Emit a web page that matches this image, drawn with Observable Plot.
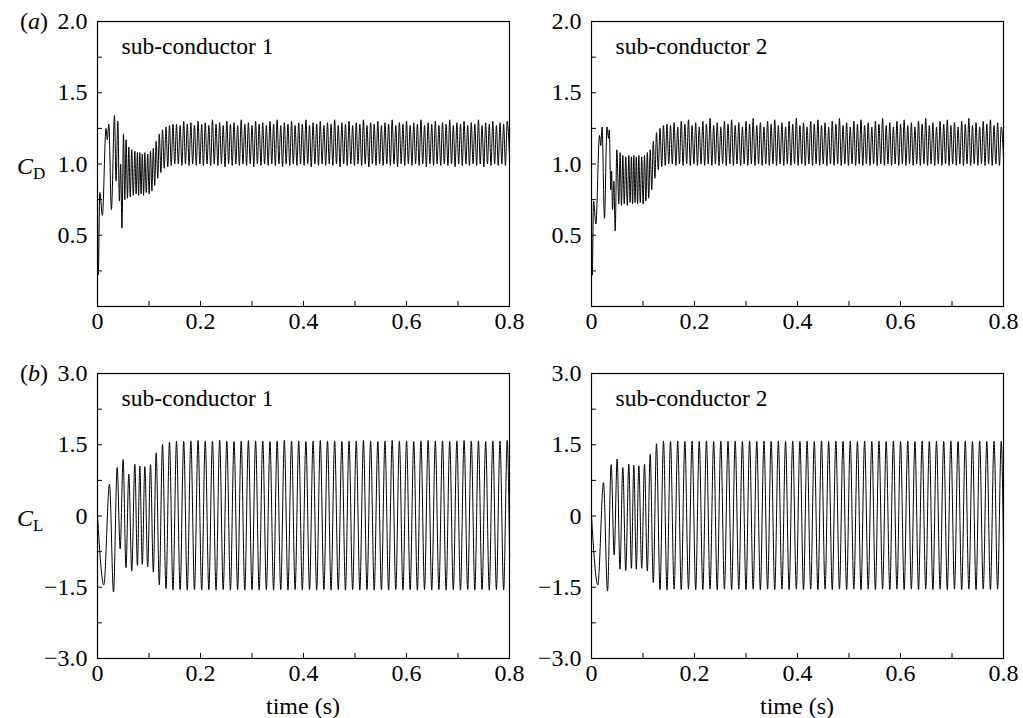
<!DOCTYPE html>
<html><head><meta charset="utf-8">
<script src="https://cdn.jsdelivr.net/npm/d3@7"></script>
<script src="https://cdn.jsdelivr.net/npm/@observablehq/plot@0.6"></script>
<style>
body{margin:0;background:#fff;}
#wrap{position:relative;width:1023px;height:718px;font-family:"Liberation Serif","Times New Roman",serif;color:#000;background:#fff;overflow:hidden}
#wrap svg{position:absolute;overflow:visible}
.lab{position:absolute;font-size:24px;line-height:1;white-space:nowrap}
.lab sub{font-size:17px;vertical-align:-5px;line-height:0}
</style></head><body><div id="wrap"></div>
<script>
// ---------- axis ticks / labels ----------
const xTicks = [0.1, 0.2, 0.3, 0.4, 0.5, 0.6, 0.7];
const xLabels = [0, 0.2, 0.4, 0.6, 0.8];
const cdTicks = [0.25, 0.5, 0.75, 1.0, 1.25, 1.5, 1.75];
const cdLabels = [0.5, 1.0, 1.5, 2.0];
const clTicks = [-2.25, -1.5, -0.75, 0, 0.75, 1.5, 2.25];
const clLabels = [-3, -1.5, 0, 1.5, 3];
const panelTitles = ["sub-conductor 1", "sub-conductor 2"];

// ---------- lift coefficient: times of extremes (s), shared by both sub-conductors ----------
const clTimes = [0, 0.0123, 0.0233, 0.0311, 0.0382, 0.0440, 0.0498, 0.0553, 0.0608, 0.0665, 0.0725, 0.0775, 0.0822, 0.0870, 0.0919, 0.0975, 0.1029, 0.1084, 0.1139, 0.1200, 0.1262, 0.1330, 0.1398, 0.1466,
  0.1534, 0.1604, 0.1674, 0.1743, 0.1813, 0.1883, 0.1953, 0.2023, 0.2092, 0.2162,
  0.2232, 0.2302, 0.2372, 0.2441, 0.2511, 0.2581, 0.2651, 0.2721, 0.2790, 0.2860,
  0.2930, 0.3000, 0.3070, 0.3139, 0.3209, 0.3279, 0.3349, 0.3419, 0.3488, 0.3558,
  0.3628, 0.3698, 0.3768, 0.3837, 0.3907, 0.3977, 0.4047, 0.4117, 0.4186, 0.4256,
  0.4326, 0.4396, 0.4466, 0.4535, 0.4605, 0.4675, 0.4745, 0.4815, 0.4884, 0.4954,
  0.5024, 0.5094, 0.5164, 0.5233, 0.5303, 0.5373, 0.5443, 0.5513, 0.5582, 0.5652,
  0.5722, 0.5792, 0.5862, 0.5931, 0.6001, 0.6071, 0.6141, 0.6211, 0.6280, 0.6350,
  0.6420, 0.6490, 0.6560, 0.6629, 0.6699, 0.6769, 0.6839, 0.6909, 0.6978, 0.7048,
  0.7118, 0.7188, 0.7258, 0.7327, 0.7397, 0.7467, 0.7537, 0.7607, 0.7676, 0.7746,
  0.7816, 0.7886, 0.7956, 0.8];

const cl1 = [0, -1.45, 0.67, -1.60, 1.02, -0.69, 1.19, -1.09, 0.88, -1.16, 1.09, -1.04, 1.05, -1.02, 1.04, -1.07, 1.08, -1.18, 1.33, -1.45, 1.51, -1.53, 1.55, -1.56,
  1.58,-1.55,1.57,-1.56,1.58,-1.55,1.59,-1.56,1.58,-1.55,
  1.58,-1.56,1.59,-1.55,1.58,-1.56,1.57,-1.55,1.58,-1.56,
  1.59,-1.55,1.58,-1.56,1.58,-1.55,1.57,-1.56,1.58,-1.55,
  1.59,-1.56,1.58,-1.55,1.58,-1.56,1.57,-1.55,1.58,-1.56,
  1.59,-1.55,1.58,-1.56,1.58,-1.55,1.57,-1.56,1.58,-1.55,
  1.58,-1.56,1.59,-1.55,1.58,-1.56,1.57,-1.55,1.58,-1.56,
  1.59,-1.55,1.58,-1.56,1.58,-1.55,1.57,-1.56,1.58,-1.55,
  1.59,-1.56,1.58,-1.55,1.58,-1.56,1.57,-1.55,1.58,-1.56,
  1.59,-1.55,1.58,-1.56,1.58,-1.55,1.57,-1.56,1.58,-1.55,
  1.58,-1.56,1.59, -0.70];

const cl2 = [0, -1.45, 0.70, -1.58, 1.08, -0.82, 1.20, -1.12, 1.02, -1.15, 1.09, -1.10, 1.07, -1.12, 1.06, -1.10, 1.09, -1.16, 1.30, -1.40, 1.52, -1.55, 1.58, -1.56,
  1.57,-1.54,1.58,-1.55,1.57,-1.54,1.58,-1.55,1.57,-1.55,
  1.58,-1.54,1.57,-1.55,1.58,-1.54,1.57,-1.55,1.58,-1.54,
  1.57,-1.55,1.58,-1.54,1.57,-1.55,1.58,-1.54,1.57,-1.55,
  1.58,-1.54,1.57,-1.55,1.58,-1.54,1.57,-1.55,1.58,-1.54,
  1.57,-1.55,1.58,-1.54,1.57,-1.55,1.58,-1.54,1.57,-1.55,
  1.58,-1.54,1.57,-1.55,1.58,-1.54,1.57,-1.55,1.58,-1.54,
  1.57,-1.55,1.58,-1.54,1.57,-1.55,1.58,-1.54,1.57,-1.55,
  1.58,-1.54,1.57,-1.55,1.58,-1.54,1.57,-1.55,1.58,-1.54,
  1.57,-1.55,1.58,-1.54,1.57,-1.55,1.58,-1.54,1.57,-1.55,
  1.58,-1.54,1.57, -0.70];

// ---------- drag coefficient ----------
const cdStartTimes1 = [0, 0.0015, 0.0045, 0.0095, 0.0165, 0.0190, 0.0220, 0.0270, 0.0330, 0.0360, 0.0395, 0.0425, 0.0450, 0.0475, 0.0505, 0.0530, 0.0555, 0.0582, 0.0608, 0.0636, 0.0665, 0.0695, 0.0725, 0.0750, 0.0775, 0.0798, 0.0822, 0.0846, 0.0870, 0.0895, 0.0919, 0.0947, 0.0975, 0.1002, 0.1029, 0.1056, 0.1084, 0.1111, 0.1139, 0.1170, 0.1200, 0.1231, 0.1262, 0.1296, 0.1330, 0.1364, 0.1398, 0.1432, 0.1466, 0.1500];
const cdStart1 = [0.75, 0.22, 0.80, 0.64, 1.25, 1.17, 1.28, 0.68, 1.34, 0.88, 1.30, 0.74, 1.00, 0.55, 1.21, 0.75, 1.17, 0.76, 1.12, 0.77, 1.10, 0.78, 1.09, 0.79, 1.08, 0.78, 1.08, 0.79, 1.07, 0.78, 1.08, 0.80, 1.07, 0.79, 1.09, 0.81, 1.11, 0.85, 1.16, 0.90, 1.21, 0.94, 1.24, 0.97, 1.26, 0.98, 1.27, 0.99, 1.28, 1.00];

const cdStartTimes2 = [0, 0.0015, 0.0040, 0.0085, 0.0155, 0.0180, 0.0205, 0.0252, 0.0300, 0.0330, 0.0345, 0.0375, 0.0390, 0.0408, 0.0434, 0.0460, 0.0492, 0.0530, 0.0555, 0.0582, 0.0608, 0.0636, 0.0665, 0.0695, 0.0725, 0.0750, 0.0775, 0.0798, 0.0822, 0.0846, 0.0870, 0.0895, 0.0919, 0.0947, 0.0975, 0.1002, 0.1029, 0.1056, 0.1084, 0.1111, 0.1139, 0.1170, 0.1200, 0.1231, 0.1262, 0.1296, 0.1330, 0.1364, 0.1398, 0.1432, 0.1466, 0.1500];
const cdStart2 = [0.70, 0.22, 0.74, 0.58, 1.20, 1.13, 1.26, 0.62, 1.26, 1.18, 1.24, 0.82, 0.95, 0.68, 0.88, 0.53, 1.10, 0.72, 1.08, 0.71, 1.06, 0.72, 1.05, 0.71, 1.06, 0.73, 1.05, 0.72, 1.06, 0.73, 1.05, 0.72, 1.06, 0.73, 1.05, 0.72, 1.06, 0.74, 1.08, 0.76, 1.10, 0.82, 1.16, 0.90, 1.22, 0.96, 1.25, 0.98, 1.27, 0.99, 1.28, 1.00];

const cdSteadyTimes = [
  0.1534, 0.1569, 0.1604, 0.1639, 0.1674, 0.1708, 0.1743, 0.1778, 0.1813, 0.1848,
  0.1883, 0.1918, 0.1953, 0.1988, 0.2023, 0.2057, 0.2092, 0.2127, 0.2162, 0.2197,
  0.2232, 0.2267, 0.2302, 0.2337, 0.2372, 0.2406, 0.2441, 0.2476, 0.2511, 0.2546,
  0.2581, 0.2616, 0.2651, 0.2686, 0.2721, 0.2755, 0.2790, 0.2825, 0.2860, 0.2895,
  0.2930, 0.2965, 0.3000, 0.3035, 0.3070, 0.3104, 0.3139, 0.3174, 0.3209, 0.3244,
  0.3279, 0.3314, 0.3349, 0.3384, 0.3419, 0.3453, 0.3488, 0.3523, 0.3558, 0.3593,
  0.3628, 0.3663, 0.3698, 0.3733, 0.3768, 0.3802, 0.3837, 0.3872, 0.3907, 0.3942,
  0.3977, 0.4012, 0.4047, 0.4082, 0.4117, 0.4151, 0.4186, 0.4221, 0.4256, 0.4291,
  0.4326, 0.4361, 0.4396, 0.4431, 0.4466, 0.4500, 0.4535, 0.4570, 0.4605, 0.4640,
  0.4675, 0.4710, 0.4745, 0.4780, 0.4815, 0.4849, 0.4884, 0.4919, 0.4954, 0.4989,
  0.5024, 0.5059, 0.5094, 0.5129, 0.5164, 0.5198, 0.5233, 0.5268, 0.5303, 0.5338,
  0.5373, 0.5408, 0.5443, 0.5478, 0.5513, 0.5547, 0.5582, 0.5617, 0.5652, 0.5687,
  0.5722, 0.5757, 0.5792, 0.5827, 0.5862, 0.5896, 0.5931, 0.5966, 0.6001, 0.6036,
  0.6071, 0.6106, 0.6141, 0.6176, 0.6211, 0.6245, 0.6280, 0.6315, 0.6350, 0.6385,
  0.6420, 0.6455, 0.6490, 0.6525, 0.6560, 0.6594, 0.6629, 0.6664, 0.6699, 0.6734,
  0.6769, 0.6804, 0.6839, 0.6874, 0.6909, 0.6943, 0.6978, 0.7013, 0.7048, 0.7083,
  0.7118, 0.7153, 0.7188, 0.7223, 0.7258, 0.7292, 0.7327, 0.7362, 0.7397, 0.7432,
  0.7467, 0.7502, 0.7537, 0.7572, 0.7607, 0.7641, 0.7676, 0.7711, 0.7746, 0.7781,
  0.7816, 0.7851, 0.7886, 0.7921, 0.7956, 0.8];

const cdSteady1 = [
  1.28,1.00,1.27,0.99,1.30,1.00,1.28,0.99,1.29,1.00,
  1.27,0.99,1.30,1.00,1.28,0.99,1.29,1.00,1.27,0.99,
  1.31,1.00,1.28,0.99,1.29,1.00,1.27,0.98,1.30,1.00,
  1.28,0.99,1.29,1.00,1.27,0.99,1.31,1.00,1.28,0.99,
  1.29,1.00,1.27,0.98,1.30,1.00,1.28,0.99,1.29,1.00,
  1.27,0.99,1.30,1.00,1.28,0.99,1.31,1.00,1.27,0.98,
  1.29,1.00,1.28,0.99,1.30,1.00,1.27,0.99,1.29,1.00,
  1.28,0.99,1.31,1.00,1.27,0.98,1.29,1.00,1.28,0.99,
  1.30,1.00,1.27,0.99,1.29,1.00,1.28,0.99,1.31,1.00,
  1.27,0.98,1.29,1.00,1.28,0.99,1.30,1.00,1.27,0.99,
  1.29,1.00,1.28,0.99,1.31,1.00,1.27,0.98,1.29,1.00,
  1.28,0.99,1.30,1.00,1.27,0.99,1.29,1.00,1.28,0.99,
  1.31,1.00,1.27,0.98,1.29,1.00,1.28,0.99,1.30,1.00,
  1.27,0.99,1.29,1.00,1.28,0.99,1.31,1.00,1.27,0.98,
  1.29,1.00,1.28,0.99,1.30,1.00,1.27,0.99,1.29,1.00,
  1.28,0.99,1.31,1.00,1.27,0.98,1.29,1.00,1.28,0.99,
  1.30,1.00,1.27,0.99,1.29,1.00,1.28,0.99,1.31,1.00,
  1.27,0.98,1.29,1.00,1.28,0.99,1.30,1.00,1.27,0.99,
  1.29,1.00,1.28,0.99,1.30, 1.05];

const cdSteady2 = [
  1.27,1.00,1.29,0.99,1.26,1.00,1.30,0.99,1.28,1.00,
  1.31,0.99,1.27,1.00,1.29,0.99,1.26,1.00,1.30,0.99,
  1.28,1.00,1.32,0.99,1.27,1.00,1.29,0.99,1.26,1.00,
  1.30,0.99,1.28,1.00,1.31,0.99,1.27,1.00,1.29,0.99,
  1.26,1.00,1.30,0.99,1.28,1.00,1.32,0.99,1.27,1.00,
  1.29,0.99,1.26,1.00,1.30,0.99,1.28,1.00,1.31,0.99,
  1.27,1.00,1.29,0.99,1.26,1.00,1.30,0.99,1.28,1.00,
  1.32,0.99,1.27,1.00,1.29,0.99,1.26,1.00,1.30,0.99,
  1.28,1.00,1.31,0.99,1.27,1.00,1.29,0.99,1.26,1.00,
  1.30,0.99,1.28,1.00,1.32,0.99,1.27,1.00,1.29,0.99,
  1.26,1.00,1.30,0.99,1.28,1.00,1.31,0.99,1.27,1.00,
  1.29,0.99,1.26,1.00,1.30,0.99,1.28,1.00,1.32,0.99,
  1.27,1.00,1.29,0.99,1.26,1.00,1.30,0.99,1.28,1.00,
  1.31,0.99,1.27,1.00,1.29,0.99,1.26,1.00,1.30,0.99,
  1.28,1.00,1.32,0.99,1.27,1.00,1.29,0.99,1.26,1.00,
  1.30,0.99,1.28,1.00,1.31,0.99,1.27,1.00,1.29,0.99,
  1.26,1.00,1.30,0.99,1.28,1.00,1.32,0.99,1.27,1.00,
  1.29,0.99,1.26,1.00,1.30,0.99,1.28,1.00,1.31,0.99,
  1.27,1.00,1.29,0.99,1.26, 1.05];

// ---------- drawing ----------
const FONT = '"Liberation Serif","Times New Roman",serif';
const wrap = document.getElementById("wrap");
const fmtX = d => d === 0 ? "0" : d.toFixed(1);
const fmtY = d => d === 0 ? "0" : (d < 0 ? "\u2212" + (-d).toFixed(1) : d.toFixed(1));

function series(times, values) {
  return times.map((t, i) => ({t, v: values[i]})).filter(d => d.v !== undefined);
}

function panel({data, yDomain, yTicks, yLabels, title, left, top, width, height, mt, mb, ml, mr}) {
  const innerH = height - mt - mb, innerW = width - ml - mr;
  const svg = Plot.plot({
    width, height, marginTop: mt, marginBottom: mb, marginLeft: ml, marginRight: mr,
    style: {fontFamily: FONT, fontSize: "24px", background: "transparent", color: "#000"},
    x: {domain: [0, 0.8]},
    y: {domain: yDomain},
    marks: [
      Plot.line(data, {x: "t", y: "v", stroke: "#000", strokeWidth: 1, curve: "monotone-x"}),
      Plot.tickX(xTicks, {x: d => d, stroke: "#000", strokeWidth: 1, insetTop: innerH - 5}),
      Plot.tickY(yTicks, {y: d => d, stroke: "#000", strokeWidth: 1, insetRight: innerW - 5}),
      Plot.frame({stroke: "#000", strokeWidth: 1.2}),
      Plot.axisX(xLabels, {tickSize: 0, tickPadding: 5, tickFormat: fmtX, fontSize: 24, label: null}),
      Plot.axisY(yLabels, {tickSize: 0, tickPadding: 10, tickFormat: fmtY, fontSize: 24, label: null}),
      Plot.text([title], {text: d => d, frameAnchor: "top-left", dx: 24, dy: 25, lineAnchor: "middle", textAnchor: "start", fontSize: 23.5})
    ]
  });
  svg.style.left = left + "px";
  svg.style.top = top + "px";
  wrap.appendChild(svg);
}

const topGeom = {top: 0, height: 340, mt: 21, mb: 34};
const botGeom = {top: 340, height: 378, mt: 33, mb: 60};
const leftGeom = {left: 0, width: 512, ml: 97, mr: 3};
const rightGeom = {left: 512, width: 511, ml: 79, mr: 20};

panel({data: series(cdStartTimes1.concat(cdSteadyTimes), cdStart1.concat(cdSteady1)), yDomain: [0, 2], yTicks: cdTicks, yLabels: cdLabels, title: panelTitles[0], ...topGeom, ...leftGeom});
panel({data: series(cdStartTimes2.concat(cdSteadyTimes), cdStart2.concat(cdSteady2)), yDomain: [0, 2], yTicks: cdTicks, yLabels: cdLabels, title: panelTitles[1], ...topGeom, ...rightGeom});
panel({data: series(clTimes, cl1), yDomain: [-3, 3], yTicks: clTicks, yLabels: clLabels, title: panelTitles[0], ...botGeom, ...leftGeom});
panel({data: series(clTimes, cl2), yDomain: [-3, 3], yTicks: clTicks, yLabels: clLabels, title: panelTitles[1], ...botGeom, ...rightGeom});

function addLabel(html, x, y, center) {
  const d = document.createElement("div");
  d.className = "lab";
  d.innerHTML = html;
  d.style.left = x + "px";
  d.style.top = y + "px";
  d.style.transform = center ? "translate(-50%,-50%)" : "translate(0,-50%)";
  wrap.appendChild(d);
}
addLabel("(<i>a</i>)", 20, 21, false);
addLabel("(<i>b</i>)", 20, 373, false);
addLabel("<i>C</i><sub>D</sub>", 17, 166, false);
addLabel("<i>C</i><sub>L</sub>", 17, 518, false);
addLabel("time (s)", 303, 706, true);
addLabel("time (s)", 797, 706, true);
</script>
</body></html>
